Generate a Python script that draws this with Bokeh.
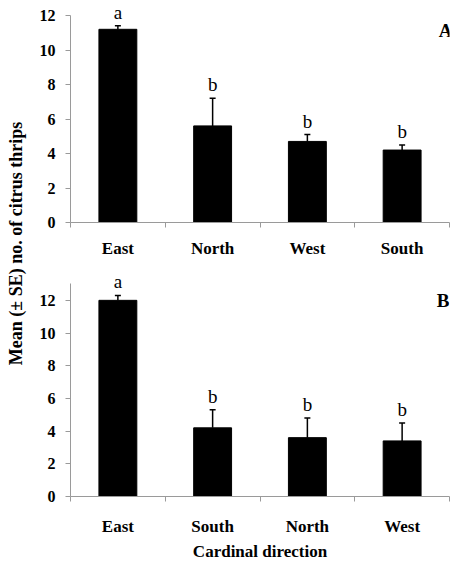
import math
from bokeh.plotting import figure
from bokeh.models import (Range1d, FixedTicker, ColumnDataSource, Whisker, TeeHead, Label)
from bokeh.layouts import row, column
from bokeh.core.properties import value
from bokeh.embed import file_html
from bokeh.resources import INLINE

# ---- data ----
cats_a = ["East", "North", "West", "South"]
mean_a = [11.2, 5.6, 4.7, 4.2]
se_a = [0.2, 1.6, 0.4, 0.3]
letters_a = ["a", "b", "b", "b"]

cats_b = ["East", "South", "North", "West"]
mean_b = [12.0, 4.2, 3.6, 3.4]
se_b = [0.3, 1.1, 1.2, 1.1]
letters_b = ["a", "b", "b", "b"]

y_ticks = [0, 2, 4, 6, 8, 10, 12]
y_title = "Mean (\u00b1 SE) no. of citrus thrips"
x_title = "Cardinal direction"

FONT = "Liberation Serif"
AXIS_GRAY = "#9a9a9a"
W = 424


def panel(cats, means, ses, letters, tag, y_end, axis_top, tag_y, tag_dx,
          height, top_border, bottom_border, right_border, label_standoff,
          xlabel=None):
    n = len(cats)
    xs = [i + 0.5 for i in range(n)]
    err = [m + s for m, s in zip(means, ses)]
    src = ColumnDataSource(dict(x=xs, top=means, err=err, letter=letters))

    p = figure(width=W, height=height, x_range=Range1d(0, n),
               y_range=Range1d(0, y_end), toolbar_location=None,
               output_backend="svg", min_border_left=40,
               min_border_right=right_border,
               min_border_top=top_border, min_border_bottom=bottom_border)
    p.outline_line_color = None
    p.grid.visible = False
    p.background_fill_color = "white"

    p.vbar(x="x", top="top", width=0.4, source=src, fill_color="black",
           line_color="black", line_width=1)

    w = Whisker(source=src, base="x", upper="err", lower="top",
                dimension="height", line_color="black", line_width=1.5,
                upper_head=TeeHead(size=6, line_color="black", line_width=1.5),
                lower_head=None)
    p.add_layout(w)

    p.text(x="x", y="err", text="letter", source=src, text_align="center",
           text_baseline="bottom", y_offset=-3, text_font=value(FONT),
           text_font_size="19px", text_color="black")

    p.add_layout(Label(x=n, y=tag_y, x_offset=tag_dx, text=tag,
                       text_align="right", text_baseline="alphabetic",
                       text_font=FONT, text_font_style="bold",
                       text_font_size="19px", text_color="black"))

    # y axis
    ya = p.yaxis[0]
    ya.ticker = FixedTicker(ticks=y_ticks)
    ya.bounds = (0, axis_top)
    ya.axis_line_color = AXIS_GRAY
    ya.major_tick_line_color = AXIS_GRAY
    ya.major_tick_out = 5
    ya.major_tick_in = 0
    ya.minor_tick_line_color = None
    ya.major_label_standoff = 10
    ya.major_label_text_font = FONT
    ya.major_label_text_font_style = "bold"
    ya.major_label_text_font_size = "16px"
    ya.major_label_text_color = "black"

    # x axis: labels at centres, ticks at category boundaries
    xa = p.xaxis[0]
    xa.ticker = FixedTicker(ticks=xs, minor_ticks=list(range(n + 1)))
    xa.major_label_overrides = {x: c for x, c in zip(xs, cats)}
    xa.axis_line_color = AXIS_GRAY
    xa.major_tick_line_color = None
    xa.major_tick_out = 0
    xa.major_tick_in = 0
    xa.minor_tick_line_color = AXIS_GRAY
    xa.minor_tick_out = 5
    xa.minor_tick_in = 0
    xa.major_label_standoff = label_standoff
    xa.major_label_text_font = FONT
    xa.major_label_text_font_style = "bold"
    xa.major_label_text_font_size = "17px"
    xa.major_label_text_color = "black"
    if xlabel:
        xa.axis_label = xlabel
        xa.axis_label_standoff = 3
        xa.axis_label_text_font = FONT
        xa.axis_label_text_font_style = "bold"
        xa.axis_label_text_font_size = "17px"
        xa.axis_label_text_color = "black"
    return p


pa = panel(cats_a, mean_a, se_a, letters_a, "A", y_end=12.87, axis_top=12,
           tag_y=11.13, tag_dx=3, height=268, top_border=0, bottom_border=46,
           right_border=0, label_standoff=11)
pb = panel(cats_b, mean_b, se_b, letters_b, "B", y_end=13.58, axis_top=13,
           tag_y=12.0, tag_dx=0, height=295, top_border=6, bottom_border=57,
           right_border=5, label_standoff=15, xlabel=x_title)

# shared y-axis title
TH = 563
tf = figure(width=30, height=TH, x_range=Range1d(0, 30), y_range=Range1d(0, TH),
            toolbar_location=None, output_backend="svg", x_axis_type=None,
            y_axis_type=None, min_border=0)
tf.outline_line_color = None
tf.grid.visible = False
tf.add_layout(Label(x=15, y=TH - 243, text=y_title, angle=math.pi / 2,
                    text_align="center", text_baseline="middle",
                    text_font=FONT, text_font_style="bold",
                    text_font_size="18px", text_color="black"))

layout = row(tf, column(pa, pb))

open("out.html", "w").write(file_html(layout, INLINE))
